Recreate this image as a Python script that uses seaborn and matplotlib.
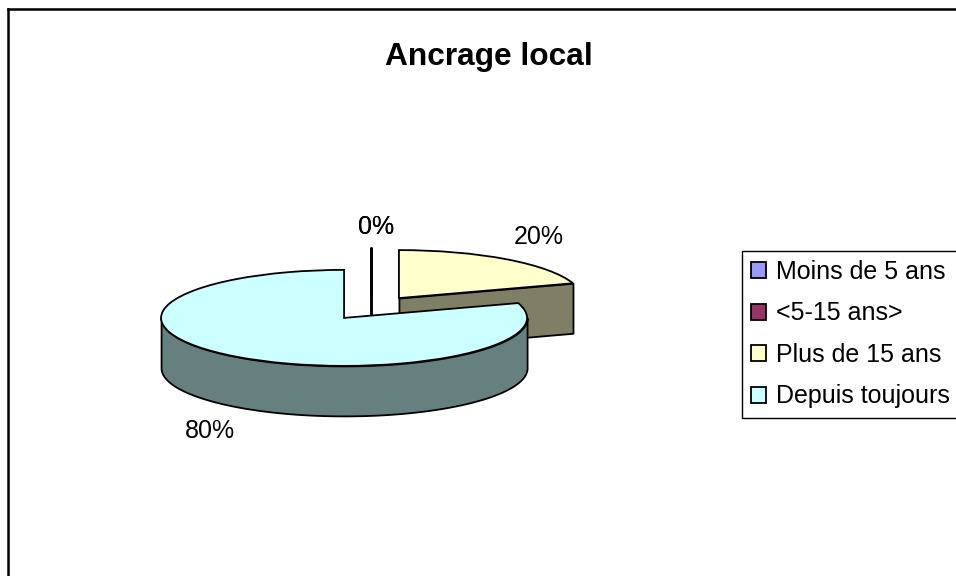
import numpy as np
import matplotlib
matplotlib.use("Agg")

import matplotlib.pyplot as plt
import seaborn as sns

# ==============================
# DATA
# ==============================
categories = ["Moins de 5 ans", "<5-15 ans>", "Plus de 15 ans", "Depuis toujours"]
shares = [0, 0, 20, 80]
title = "Ancrage local"

# ==============================
# STYLE
# ==============================
top_colors = ["#9999ff", "#993366", "#ffffcc", "#ccffff"]
wall_colors = ["#666699", "#662244", "#7f7f66", "#668080"]

W, H = 956, 576
FRAME_LEFT, FRAME_TOP = 8, 9
PIE_X, PIE_Y = 371.5, 308      # pixel centre before the explosion
RX, RY = 183, 48               # pixels per unit of radius
DEPTH = 50 / RY
LABEL_PX = [(376, 227), (376, 227), (539, 237), (210, 431)]

sns.set_theme(style="white")
plt.rcParams["font.family"] = ["Liberation Sans", "DejaVu Sans"]

fig = plt.figure(figsize=(W / 100, H / 100), dpi=100)
ax = fig.add_axes([FRAME_LEFT / W, 0, 1 - FRAME_LEFT / W, 1 - FRAME_TOP / H])

wedges, _, autotexts = ax.pie(
    shares,
    colors=top_colors,
    startangle=90,
    counterclock=False,
    explode=[0.255] * len(shares),
    autopct="%d%%",
    wedgeprops={"edgecolor": "black", "linewidth": 1.3},
    textprops={"fontsize": 18, "color": "black"},
)

# map pixels onto the pie's own data units (squashed ellipse, no equal aspect)
ax.set_aspect("auto")
ax.set_xlim((FRAME_LEFT - PIE_X) / RX, (W - PIE_X) / RX)
ax.set_ylim((PIE_Y - H) / RY, (PIE_Y - FRAME_TOP) / RY)


def px_to_data(px, py):
    return (px - PIE_X) / RX, (PIE_Y - py) / RY


# ==============================
# SIDE WALLS
# ==============================
edge = {"edgecolor": "black", "linewidth": 1.3}

# radial face of the small slice, seen from the front
yellow = wedges[2]
cx, cy = yellow.center
tip = np.deg2rad(yellow.theta1)
xs = np.array([cx, cx + yellow.r * np.cos(tip)])
ys = np.array([cy, cy + yellow.r * np.sin(tip)])
ax.fill_between(xs, ys - DEPTH, ys, color=wall_colors[2], zorder=1, **edge)
yellow.set_zorder(2)

# the two empty slices only show as a vertical stroke
for w in wedges[:2]:
    cx, cy = w.center
    ax.plot([cx, cx], [cy + w.r, cy - DEPTH], color="black", lw=1.8, zorder=3)

# outer wall of the big slice, front half only
blue = wedges[3]
cx, cy = blue.center
theta = np.deg2rad(np.linspace(180, 360, 181))
xs = cx + blue.r * np.cos(theta)
ys = cy + blue.r * np.sin(theta)
ax.fill_between(xs, ys - DEPTH, ys, color=wall_colors[3], zorder=4, **edge)
blue.set_zorder(5)

# ==============================
# TEXT AND LEGEND
# ==============================
for txt, (px, py) in zip(autotexts, LABEL_PX):
    txt.set_position(px_to_data(px, py))
    txt.set_zorder(10)

fig.suptitle(title, x=489 / W, y=1 - 57 / H, va="center", ha="center",
             fontsize=22.8, fontweight="bold", color="black")

legend = ax.legend(
    wedges,
    categories,
    loc="upper left",
    bbox_to_anchor=(742 / W, 1 - 251 / H),
    bbox_transform=fig.transFigure,
    borderaxespad=0,
    borderpad=0.36,
    fontsize=18,
    handlelength=0.6,
    handleheight=0.6,
    handletextpad=0.4,
    labelspacing=0.7,
    fancybox=False,
    framealpha=1,
    edgecolor="black",
)
legend.get_frame().set_linewidth(1.0)
legend.set_zorder(20)
for text in legend.get_texts():
    text.set_color("black")

# ==============================
# CHART AREA BORDER
# ==============================
ax.set_frame_on(True)
sns.despine(ax=ax, top=False, left=False, right=True, bottom=True)
for side in ["top", "left"]:
    ax.spines[side].set_color("black")
    ax.spines[side].set_linewidth(1.8)

fig.savefig("out.png", dpi=100)
plt.close(fig)
